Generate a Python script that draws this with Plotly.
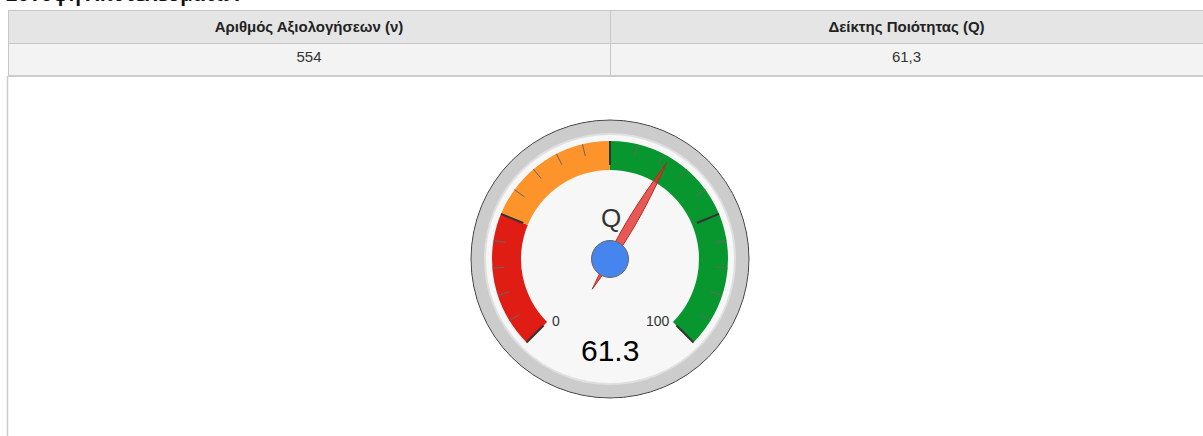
import numpy as np
import plotly.graph_objects as go

# ---------------- data ----------------
table_headers = ["Αριθμός Αξιολογήσεων (ν)", "Δείκτης Ποιότητας (Q)"]
n_ratings = 554
q_index = 61.3
gauge_label = "Q"
gauge_min, gauge_max = 0, 100
band_from = [0, 25, 50]
band_to = [25, 50, 100]
band_colors = ["#df1d15", "#fd932b", "#08972f"]
major_ticks = [0, 25, 50, 75, 100]
minor_step = 5
title_text = "Σύνοψη Αποτελεσμάτων"

# ---------------- geometry (pixels) ----------------
W, H = 1203, 436
CX, CY = 610, 259          # gauge centre
R_AX = 140                 # radial axis extent (1 unit = 1 px)
R_OUT = 139
R_FACE = 125
BAND_IN, BAND_OUT = 89, 118
SWEEP = 270.0

def vtheta(v):
    return (np.asarray(v, dtype=float) - gauge_min) / (gauge_max - gauge_min) * SWEEP

fig = go.Figure()

# ---------------- table ----------------
fig.add_trace(go.Table(
    domain=dict(x=[8 / W, 1.0], y=[0, (H - 10) / H]),
    columnwidth=[602, 593],
    header=dict(
        values=["<b>%s</b>" % h for h in table_headers],
        fill_color="#e5e5e5",
        line=dict(color="#c8c8c8", width=1),
        align="center",
        height=33,
        font=dict(family="Arial", size=15, color="#222222"),
    ),
    cells=dict(
        values=[[str(n_ratings)], [f"{q_index:.1f}".replace(".", ",")]],
        fill_color="#f3f3f3",
        line=dict(color="#c8c8c8", width=1),
        align="center",
        height=32,
        font=dict(family="Arial", size=15, color="#333333"),
    ),
))

# ---------------- gauge ----------------
# bezel & face
fig.add_trace(go.Barpolar(theta=[180], width=[360], r=[R_OUT], base=0,
                          marker=dict(color="#cccccc", line=dict(color="#444444", width=1)),
                          hoverinfo="skip", showlegend=False, subplot="polar"))
fig.add_trace(go.Barpolar(theta=[180], width=[360], r=[R_FACE], base=0,
                          marker=dict(color="#f7f7f7", line=dict(color="#e0e0e0", width=2)),
                          hoverinfo="skip", showlegend=False, subplot="polar"))
# colour bands
bf = np.array(band_from, dtype=float)
bt = np.array(band_to, dtype=float)
fig.add_trace(go.Barpolar(theta=vtheta((bf + bt) / 2), width=vtheta(bt) - vtheta(bf),
                          r=[BAND_OUT - BAND_IN] * len(bf), base=BAND_IN,
                          marker=dict(color=band_colors, line=dict(width=0)),
                          hoverinfo="skip", showlegend=False, subplot="polar"))

# minor ticks
minor_vals = [v for v in np.arange(gauge_min, gauge_max + 0.001, minor_step) if v not in major_ticks]
mt_r, mt_t = [], []
for v in minor_vals:
    mt_r += [106, BAND_OUT, None]
    mt_t += [float(vtheta(v)), float(vtheta(v)), None]
fig.add_trace(go.Scatterpolar(r=mt_r, theta=mt_t, mode="lines",
                              line=dict(color="#666666", width=1),
                              hoverinfo="skip", showlegend=False, subplot="polar"))
# major ticks
Mt_r, Mt_t = [], []
for v in major_ticks:
    Mt_r += [94, BAND_OUT, None]
    Mt_t += [float(vtheta(v)), float(vtheta(v)), None]
fig.add_trace(go.Scatterpolar(r=Mt_r, theta=Mt_t, mode="lines",
                              line=dict(color="#333333", width=2),
                              hoverinfo="skip", showlegend=False, subplot="polar"))

# needle (lens shape)
nt = float(vtheta(q_index))
d0, d1, wmax = -35.0, 112.0, 4.5
d = np.linspace(d0, d1, 60)
w = wmax * np.sin(np.pi * (d - d0) / (d1 - d0))
dd = np.concatenate([d, d[::-1]])
ww = np.concatenate([w, -w[::-1]])
nr = np.hypot(dd, ww)
nth = nt + np.degrees(np.arctan2(ww, dd))
fig.add_trace(go.Scatterpolar(r=nr, theta=nth, mode="lines", fill="toself",
                              fillcolor="rgba(226,45,40,0.78)",
                              line=dict(color="#b8281f", width=1),
                              hoverinfo="skip", showlegend=False, subplot="polar"))
# hub
fig.add_trace(go.Scatterpolar(r=[0], theta=[0], mode="markers",
                              marker=dict(size=37, color="#4684ee", line=dict(color="#666666", width=1)),
                              hoverinfo="skip", showlegend=False, subplot="polar"))

fig.update_layout(
    width=W, height=H,
    margin=dict(l=0, r=0, t=0, b=0),
    paper_bgcolor="white",
    showlegend=False,
    polar=dict(
        domain=dict(x=[(CX - R_AX) / W, (CX + R_AX) / W],
                    y=[(H - CY - R_AX) / H, (H - CY + R_AX) / H]),
        bgcolor="rgba(0,0,0,0)",
        hole=0,
        radialaxis=dict(visible=False, range=[0, R_AX]),
        angularaxis=dict(visible=False, rotation=225, direction="clockwise",
                         thetaunit="degrees"),
    ),
)

def px(x):
    return x / W

def py(y):
    return (H - y) / H

annotations = [
    dict(text=gauge_label, x=px(CX + 1), y=py(CY - 41), showarrow=False,
         xanchor="center", yanchor="middle", font=dict(family="Arial", size=26, color="#333333")),
    dict(text=f"{q_index:.1f}", x=px(CX), y=py(CY + 91), showarrow=False,
         xanchor="center", yanchor="middle", font=dict(family="Arial", size=30, color="#000000")),
    dict(text=str(gauge_min), x=px(CX - 60), y=py(CY + 62), showarrow=False,
         xanchor="left", yanchor="middle", font=dict(family="Arial", size=14, color="#333333")),
    dict(text=str(gauge_max), x=px(CX + 62), y=py(CY + 62), showarrow=False,
         xanchor="right", yanchor="middle", font=dict(family="Arial", size=14, color="#333333")),
    dict(text="<b>%s</b>" % title_text, x=px(4), y=py(-6), showarrow=False,
         xanchor="left", yanchor="middle", font=dict(family="Open Sans", size=19, color="#111111")),
]
fig.update_layout(annotations=annotations)

fig.update_layout(shapes=[
    dict(type="line", xref="paper", yref="paper", x0=px(7.5), x1=px(7.5), y0=0, y1=py(76),
         line=dict(color="#cccccc", width=1.5)),
    dict(type="line", xref="paper", yref="paper", x0=px(8), x1=1, y0=py(76), y1=py(76),
         line=dict(color="#cccccc", width=2)),
])

fig.write_html("out.html",
               config={"displayModeBar": False},
               post_script="document.body.style.margin='0';document.body.style.overflow='hidden';")
